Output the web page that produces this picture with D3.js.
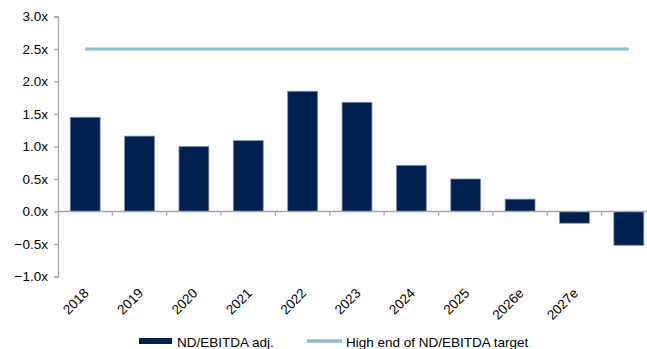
<!DOCTYPE html>
<html>
<head>
<meta charset="utf-8">
<script src="https://cdn.jsdelivr.net/npm/d3@7"></script>
<style>
  html, body { margin: 0; padding: 0; background: #fff; }
  svg { display: block; font-family: "Liberation Sans", Arial, sans-serif; }
</style>
</head>
<body>
<svg id="chart" width="647" height="349"></svg>
<script>
// Net debt / adjusted EBITDA by year, with the upper end of the target range
const categories = ["2018", "2019", "2020", "2021", "2022", "2023", "2024", "2025", "2026e", "2027e", "2028e"];
const tickLabels = ["2018", "2019", "2020", "2021", "2022", "2023", "2024", "2025", "2026e", "2027e", ""];
const leverage = [1.45, 1.16, 1.0, 1.09, 1.85, 1.68, 0.71, 0.5, 0.19, -0.18, -0.52];
const targetHigh = [2.5, 2.5, 2.5, 2.5, 2.5, 2.5, 2.5, 2.5, 2.5, 2.5, 2.5];
const yTicks = [-1.0, -0.5, 0.0, 0.5, 1.0, 1.5, 2.0, 2.5, 3.0];
const seriesNames = ["ND/EBITDA adj.", "High end of ND/EBITDA target"];

const svg = d3.select("#chart");
const plotLeft = 58, plotRight = 656, plotTop = 16.5, plotBottom = 276.5;
const axisColor = "#a6a6a6";
const barColor = "#00214f";
const lineColor = "#8dbccb";
const fontSize = "13.5px";

const x = d3.scaleBand().domain(categories).range([plotLeft, plotRight]).paddingInner(0.45).paddingOuter(0.225);
const xEdges = d3.scaleLinear().domain([0, categories.length]).range([plotLeft, plotRight]);
const y = d3.scaleLinear().domain([-1, 3]).range([plotBottom, plotTop]);

// y axis
const yAxis = svg.append("g")
  .attr("transform", `translate(${plotLeft},0)`)
  .call(d3.axisLeft(y).tickValues(yTicks).tickSize(4).tickPadding(6)
    .tickFormat(d => d3.format(".1f")(d) + "x"));
yAxis.select(".domain").attr("stroke", axisColor).attr("stroke-width", 1.3);
yAxis.selectAll(".tick line").attr("stroke", axisColor).attr("stroke-width", 1.3);
yAxis.selectAll(".tick text").attr("fill", "#000").style("font-size", fontSize)
  .style("font-family", "'Liberation Sans', Arial, sans-serif");

// bars
svg.append("g").selectAll("rect")
  .data(leverage)
  .join("rect")
  .attr("x", (d, i) => x(categories[i]))
  .attr("width", x.bandwidth())
  .attr("y", d => y(Math.max(0, d)))
  .attr("height", d => Math.abs(y(d) - y(0)))
  .attr("fill", barColor)
  .attr("stroke", "#7d8ea8")
  .attr("stroke-width", 0.8);

// x axis along zero, with ticks at category boundaries
const zeroY = y(0);
svg.append("line")
  .attr("x1", plotLeft).attr("x2", plotRight)
  .attr("y1", zeroY).attr("y2", zeroY)
  .attr("stroke", axisColor).attr("stroke-width", 1.3);
svg.append("g").selectAll("line")
  .data(d3.range(1, categories.length + 1))
  .join("line")
  .attr("x1", d => xEdges(d)).attr("x2", d => xEdges(d))
  .attr("y1", zeroY).attr("y2", zeroY + 4)
  .attr("stroke", axisColor).attr("stroke-width", 1.3);

// target line
const line = d3.line()
  .x((d, i) => x(categories[i]) + x.bandwidth() / 2)
  .y(d => y(d));
svg.append("path")
  .datum(targetHigh)
  .attr("d", line)
  .attr("fill", "none")
  .attr("stroke", lineColor)
  .attr("stroke-width", 3);

// rotated category labels below the plot
svg.append("g").selectAll("text")
  .data(tickLabels)
  .join("text")
  .attr("transform", (d, i) => `translate(${x(categories[i]) + x.bandwidth() / 2 + 4.5},294) rotate(-45)`)
  .attr("text-anchor", "end")
  .style("font-size", fontSize)
  .attr("fill", "#000")
  .text(d => d);

// legend
const legend = svg.append("g");
legend.append("rect")
  .attr("x", 139).attr("y", 338).attr("width", 33).attr("height", 6)
  .attr("fill", barColor);
legend.append("text")
  .attr("x", 177).attr("y", 346.5)
  .style("font-size", fontSize).attr("fill", "#000")
  .text(seriesNames[0]);
legend.append("line")
  .attr("x1", 307).attr("x2", 342).attr("y1", 341).attr("y2", 341)
  .attr("stroke", lineColor).attr("stroke-width", 3.5);
legend.append("text")
  .attr("x", 346).attr("y", 346.5)
  .style("font-size", fontSize).attr("fill", "#000")
  .text(seriesNames[1]);
</script>
</body>
</html>
